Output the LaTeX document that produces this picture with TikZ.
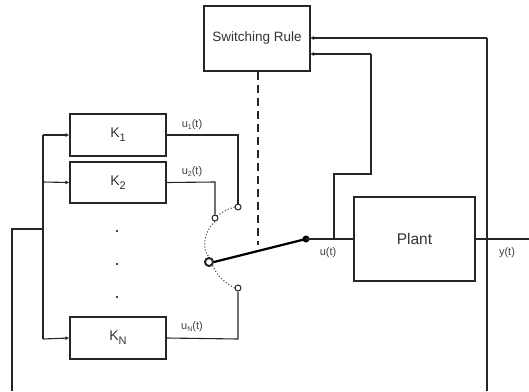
\documentclass[tikz,border=0pt]{standalone}
\usepackage{fontspec}
\setmainfont{Liberation Sans}
\usetikzlibrary{arrows.meta}
\newcommand{\lowsub}[1]{\raisebox{-0.55ex}{\fontsize{11}{12}\selectfont #1}}
\newcommand{\smallsub}[1]{\raisebox{-0.35ex}{\fontsize{7}{8}\selectfont #1}}
\tikzset{
  blk/.style={draw=black!85, line width=1.2pt, fill=white, inner sep=0pt},
  wire/.style={draw=black!85, line width=1.1pt},
  arr/.style={wire, -{Latex[length=4pt,width=4pt]}},
  lbl/.style={font=\fontsize{11}{12}\selectfont, text=black!75, inner sep=0pt},
  term/.style={circle, draw=black!85, line width=1pt, fill=white, minimum size=6pt, inner sep=0pt},
}
\begin{document}
\begin{tikzpicture}[x=1pt,y=-1pt]
\useasboundingbox (0,0) rectangle (529,391);
% blocks
\node[blk, minimum width=106pt, minimum height=65pt, font=\fontsize{13.5}{15}\selectfont, text=black!80] (sr) at (257,38.5) {Switching Rule};
\node[blk, minimum width=96pt, minimum height=42pt, font=\fontsize{14}{16}\selectfont, text=black!80] (k1) at (118,135) {K\lowsub{1}};
\node[blk, minimum width=96pt, minimum height=41pt, font=\fontsize{14}{16}\selectfont, text=black!80] (k2) at (118,182.5) {K\lowsub{2}};
\node[blk, minimum width=96pt, minimum height=42pt, font=\fontsize{14}{16}\selectfont, text=black!80] (kn) at (118,338) {K\lowsub{N}};
\node[blk, minimum width=121pt, minimum height=84pt, font=\fontsize{15.5}{17}\selectfont, text=black!80] (pl) at (414.5,239) {Plant};
% terminals
\node[term] (c1) at (238,207) {};
\node[term] (c2) at (215,218) {};
\node[term] (cn) at (238,288) {};
\node[circle, draw=black!85, line width=2pt, fill=white, minimum size=8pt, inner sep=0pt] (pv) at (209,262) {};
\node[circle, fill=black, minimum size=7pt, inner sep=0pt] (dt) at (306,239) {};
% coordinates
\coordinate (fbl) at (12,391);
\coordinate (fbl1) at (12,229);
\coordinate (bj) at (43,229);
\coordinate (bt) at (43,135);
\coordinate (b2) at (43,182);
\coordinate (bb) at (43,339);
\coordinate (u1c) at (238,135);
\coordinate (u2c) at (215,182);
\coordinate (unc) at (238,339);
\coordinate (ut) at (334,239);
\coordinate (ut1) at (334,174);
\coordinate (ut2) at (371,174);
\coordinate (ut3) at (371,54);
\coordinate (sr2) at (310,54);
\coordinate (sr1) at (310,38);
\coordinate (yb) at (487,391);
\coordinate (yt) at (487,38);
\coordinate (yo) at (529,239);
\coordinate (dsh) at (258,245);
% feedback to controllers
\draw[wire] (fbl) -- (fbl1) -- (bj);
\draw[wire] (bt) -- (bb);
\draw[arr] (bt) -- (k1.west);
\draw[arr] (b2) -- (k2.west);
\draw[arr] (bb) -- (kn.west);
% controller outputs
\draw[wire] (k1.east) -- (u1c) -- (c1.north);
\draw[wire] (k2.east) -- (u2c) -- (c2.north);
\draw[wire] (kn.east) -- (unc) -- (cn.south);
% dotted arc
\draw[black!70, line width=1.1pt, dotted] (c1.west) .. controls (226,210) .. (c2.north east);
\draw[black!70, line width=1.1pt, dotted] (c2.south) .. controls (203,232) and (202,250) .. (pv.north);
\draw[black!70, line width=1.1pt, dotted] (pv.south east) .. controls (218,278) and (226,283) .. (cn.west);
% switch
\draw[black, line width=2.2pt] (pv.east) -- (dt.center);
\draw[wire] (dt.center) -- (pl.west);
% dashed link
\draw[wire, dash pattern=on 8pt off 5pt] (sr.south -| dsh) -- (dsh);
% plant output
\draw[wire] (pl.east) -- (yo);
\draw[wire] (yb) -- (yt);
\draw[arr] (yt) -- (sr1);
% u(t) to switching rule
\draw[wire] (ut) -- (ut1) -- (ut2) -- (ut3);
\draw[arr] (ut3) -- (sr2);
% dots
\fill[black] (117,231) circle (1.2pt) (117,264) circle (1.2pt) (117,297) circle (1.2pt);
% labels
\node[lbl] (l1) at (192,125) {u\smallsub{1}(t)};
\node[lbl] (l2) at (192,172) {u\smallsub{2}(t)};
\node[lbl] (ln) at (192,327) {u\smallsub{N}(t)};
\node[lbl] (lu) at (328,253) {u(t)};
\node[lbl] (ly) at (507,253) {y(t)};
\end{tikzpicture}
\end{document}
